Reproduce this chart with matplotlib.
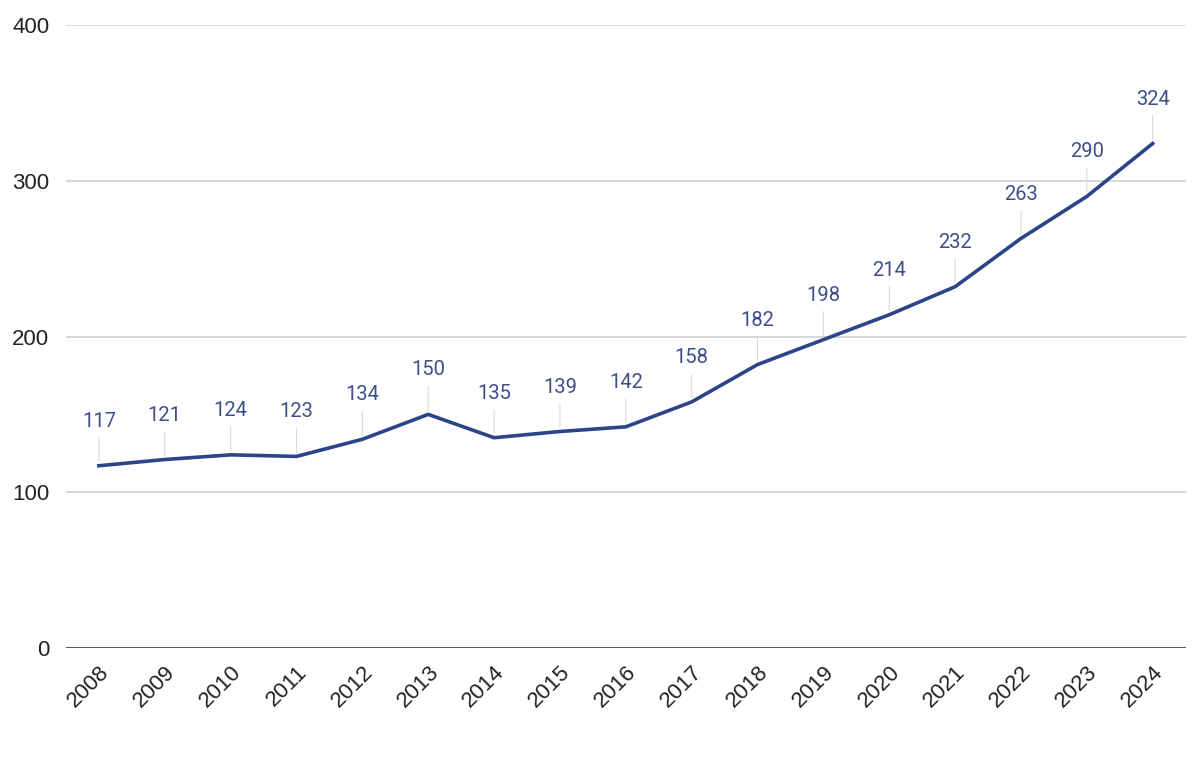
import matplotlib.pyplot as plt

years = [str(y) for y in range(2008, 2025)]
values = [117, 121, 124, 123, 134, 150, 135, 139, 142, 158, 182, 198, 214, 232, 263, 290, 324]
yticks = [0, 100, 200, 300, 400]

line_color = '#2c4589'
label_color = '#3d4f8a'


def main():
    fig = plt.figure(figsize=(12, 7.64), dpi=100)
    ax = fig.add_axes([0.055, 0.152, 0.933, 0.815])

    x = list(range(len(years)))
    ax.plot(x, values, color=line_color, lw=2.6, solid_joinstyle='round', zorder=3)

    for xi, v in zip(x, values):
        ax.annotate(str(v), xy=(xi, v), xytext=(0, 32), textcoords='offset points',
                    ha='center', va='center', fontsize=14.5, color=label_color,
                    family=['Roboto', 'DejaVu Sans'],
                    arrowprops=dict(arrowstyle='-', color='#dadada', lw=0.8,
                                    shrinkA=3, shrinkB=3))

    ax.set_xlim(-0.5, len(years) - 0.5)
    ax.set_ylim(0, 400)
    ax.set_yticks(yticks)
    ax.set_yticklabels([str(t) for t in yticks], fontsize=16,
                       family=['Liberation Sans'], color='#222222')
    ax.set_xticks(x)
    ax.set_xticklabels(years, rotation=45, ha='right', rotation_mode='anchor',
                       fontsize=16, family=['Liberation Sans'], color='#222222')
    ax.tick_params(length=0, axis='both')
    ax.tick_params(axis='y', pad=12)
    ax.tick_params(axis='x', pad=10)

    for t in yticks[1:]:
        ax.axhline(t, color='#d4d4d4', lw=1.3, zorder=1)
    ax.axhline(0, color='#555555', lw=1.4, zorder=2)

    for s in ax.spines.values():
        s.set_visible(False)

    fig.savefig('out.png', dpi=100)


if __name__ == "__main__":
    main()
